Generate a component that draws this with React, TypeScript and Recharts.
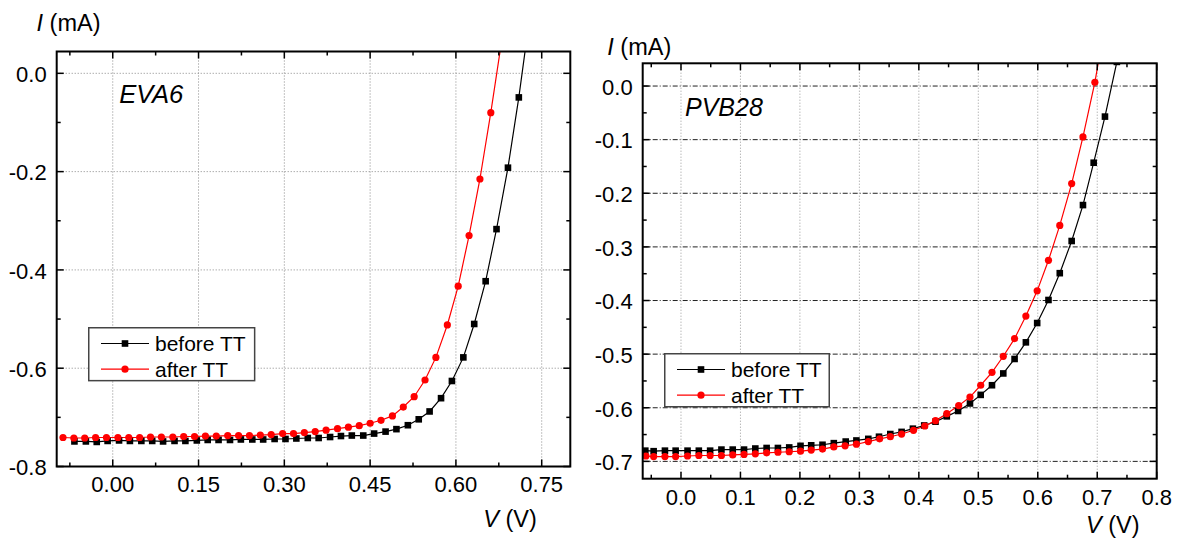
import React from 'react';
import { LineChart, Line, XAxis, YAxis, ReferenceLine, Legend } from 'recharts';

const FONT = '"Liberation Sans", Arial, Helvetica, sans-serif';

// ---------- EVA6 panel ----------
const EVA6_BEFORE_V = [-0.067, -0.047, -0.028, -0.009, 0.011, 0.030, 0.050, 0.069, 0.088, 0.108, 0.127, 0.147, 0.166, 0.185, 0.205, 0.224, 0.244, 0.263, 0.283, 0.302, 0.321, 0.341, 0.360, 0.380, 0.399, 0.418, 0.438, 0.457, 0.477, 0.496, 0.516, 0.535, 0.554, 0.574, 0.593, 0.613, 0.632, 0.652, 0.671, 0.691, 0.710, 0.730];
const EVA6_BEFORE_I = [-0.749, -0.749, -0.750, -0.748, -0.747, -0.748, -0.748, -0.748, -0.749, -0.748, -0.748, -0.747, -0.746, -0.746, -0.746, -0.745, -0.745, -0.745, -0.744, -0.744, -0.743, -0.742, -0.742, -0.740, -0.738, -0.737, -0.737, -0.733, -0.729, -0.724, -0.716, -0.704, -0.688, -0.661, -0.626, -0.578, -0.510, -0.423, -0.317, -0.192, -0.049, 0.123];
const EVA6_AFTER_V = [-0.087, -0.068, -0.049, -0.030, -0.011, 0.009, 0.028, 0.047, 0.066, 0.085, 0.105, 0.124, 0.143, 0.162, 0.181, 0.201, 0.220, 0.239, 0.258, 0.277, 0.297, 0.316, 0.335, 0.354, 0.373, 0.393, 0.412, 0.431, 0.450, 0.469, 0.489, 0.508, 0.527, 0.546, 0.565, 0.585, 0.604, 0.623, 0.642, 0.661, 0.681];
const EVA6_AFTER_I = [-0.741, -0.742, -0.742, -0.741, -0.741, -0.741, -0.741, -0.741, -0.740, -0.740, -0.740, -0.739, -0.739, -0.738, -0.738, -0.737, -0.737, -0.737, -0.736, -0.735, -0.733, -0.733, -0.731, -0.729, -0.726, -0.723, -0.720, -0.717, -0.712, -0.706, -0.697, -0.679, -0.658, -0.624, -0.578, -0.512, -0.433, -0.330, -0.215, -0.080, 0.074];
const EVA6_X_MAJOR = [0, 0.15, 0.3, 0.45, 0.6, 0.75];
const EVA6_X_MINOR = [-0.075, 0.075, 0.225, 0.375, 0.525, 0.675];
const EVA6_Y_MAJOR = [-0.8, -0.6, -0.4, -0.2, 0];
const EVA6_Y_MINOR = [-0.7, -0.5, -0.3, -0.1];

// ---------- PVB28 panel ----------
const PVB28_BEFORE_V = [-0.060, -0.046, -0.027, -0.009, 0.011, 0.030, 0.049, 0.068, 0.087, 0.106, 0.125, 0.144, 0.163, 0.182, 0.201, 0.219, 0.238, 0.257, 0.277, 0.295, 0.315, 0.333, 0.352, 0.371, 0.390, 0.409, 0.428, 0.447, 0.466, 0.486, 0.504, 0.523, 0.542, 0.561, 0.580, 0.599, 0.618, 0.637, 0.657, 0.676, 0.694, 0.713, 0.733];
const PVB28_BEFORE_I = [-0.680, -0.681, -0.680, -0.680, -0.680, -0.680, -0.680, -0.678, -0.678, -0.678, -0.676, -0.675, -0.675, -0.674, -0.671, -0.670, -0.669, -0.666, -0.663, -0.661, -0.658, -0.654, -0.649, -0.645, -0.639, -0.633, -0.626, -0.616, -0.606, -0.592, -0.576, -0.558, -0.536, -0.509, -0.478, -0.442, -0.399, -0.349, -0.289, -0.222, -0.143, -0.057, 0.045];
const PVB28_AFTER_V = [-0.059, -0.046, -0.027, -0.009, 0.011, 0.030, 0.049, 0.068, 0.087, 0.106, 0.125, 0.144, 0.163, 0.182, 0.201, 0.219, 0.238, 0.257, 0.276, 0.295, 0.315, 0.334, 0.352, 0.371, 0.391, 0.410, 0.428, 0.447, 0.467, 0.486, 0.504, 0.523, 0.542, 0.561, 0.580, 0.599, 0.618, 0.637, 0.657, 0.676, 0.696, 0.715];
const PVB28_AFTER_I = [-0.690, -0.691, -0.691, -0.691, -0.690, -0.689, -0.689, -0.689, -0.688, -0.687, -0.686, -0.684, -0.683, -0.682, -0.681, -0.679, -0.677, -0.673, -0.671, -0.668, -0.663, -0.658, -0.654, -0.649, -0.642, -0.634, -0.624, -0.611, -0.596, -0.580, -0.558, -0.534, -0.504, -0.471, -0.429, -0.382, -0.325, -0.260, -0.182, -0.095, 0.007, 0.127];
const PVB28_X_MAJOR = [0, 0.1, 0.2, 0.3, 0.4, 0.5, 0.6, 0.7, 0.8];
const PVB28_X_MINOR = [-0.05, 0.05, 0.15, 0.25, 0.35, 0.45, 0.55, 0.65, 0.75];
const PVB28_Y_MAJOR = [-0.7, -0.6, -0.5, -0.4, -0.3, -0.2, -0.1, 0];
const PVB28_Y_MINOR = [-0.65, -0.55, -0.45, -0.35, -0.25, -0.15, -0.05];

const SERIES_NAMES = ['before TT', 'after TT'];
const SERIES_COLORS = ['#000000', '#ff0000'];

const toPoints = (v: number[], i: number[]) => v.map((x, k) => ({ v: x, i: i[k] }));

const SquareDot = (props: any) => {
  const { cx, cy, index } = props;
  if (cx == null || cy == null) return <g key={`sq-${index}`} />;
  return <rect key={`sq-${index}`} x={cx - 3.3} y={cy - 3.3} width={6.6} height={6.6} fill="#000" />;
};

type Box = { x: number; y: number; w: number; h: number };

const makeLegend = (box: Box) => () => {
  const rows = [16.5, 42.2];
  return (
    <svg width={box.w} height={box.h} style={{ display: 'block', overflow: 'visible' }}>
      <rect x={0.75} y={0.75} width={box.w - 1.5} height={box.h - 1.5} fill="#fff" stroke="#444" strokeWidth={1.5} />
      {SERIES_NAMES.map((n, k) => (
        <g key={n}>
          <line x1={13} x2={61} y1={rows[k]} y2={rows[k]} stroke={SERIES_COLORS[k]} strokeWidth={1.2} />
          {k === 0 ? (
            <rect x={37 - 3.3} y={rows[k] - 3.3} width={6.6} height={6.6} fill="#000" />
          ) : (
            <circle cx={37} cy={rows[k]} r={3.6} fill="#ff0000" />
          )}
          <text x={67} y={rows[k] + 7.5} fontSize={21} fontFamily={FONT} fill="#000">{n}</text>
        </g>
      ))}
    </svg>
  );
};

type PanelProps = {
  left: number;
  width: number;
  plot: { l: number; r: number; t: number; b: number };
  xDomain: [number, number];
  yDomain: [number, number];
  xMajor: number[];
  xMinor: number[];
  yMajor: number[];
  yMinor: number[];
  xDigits: number;
  before: { v: number; i: number }[];
  after: { v: number; i: number }[];
  hGrid: { stroke: string; dash: string };
  vGrid: { stroke: string; dash: string };
  legend: Box;
  name: string;
  nameAt: [number, number, number];
  yTitleAt: [number, number];
  xTitleAt: [number, number];
};

const H = 541;
const TICK_FS = 22;

const Panel = (p: PanelProps) => {
  const common = { type: 'number' as const, allowDataOverflow: true };
  const { l, r, t, b } = p.plot;
  // frame tick positions (non-data decoration) follow the same linear domain → plot mapping
  const px = (v: number) => l + ((v - p.xDomain[0]) / (p.xDomain[1] - p.xDomain[0])) * (r - l);
  const py = (v: number) => b - ((v - p.yDomain[0]) / (p.yDomain[1] - p.yDomain[0])) * (b - t);
  const tk = { stroke: '#000', strokeWidth: 1.5 };
  const xt = [...p.xMajor.map((v) => [v, 7]), ...p.xMinor.map((v) => [v, 4])];
  const yt = [...p.yMajor.map((v) => [v, 7]), ...p.yMinor.map((v) => [v, 4])];

  return (
    <div style={{ position: 'absolute', left: p.left, top: 0, width: p.width, height: H }}>
      <LineChart width={p.width} height={H} margin={{ top: t, right: p.width - r, bottom: 0, left: 0 }}>
        {p.yMajor.map((v) => (
          <ReferenceLine key={`hg-${v}`} y={v} ifOverflow="visible" stroke={p.hGrid.stroke} strokeDasharray={p.hGrid.dash} strokeWidth={1} />
        ))}
        {p.xMajor.map((v) => (
          <ReferenceLine key={`vg-${v}`} x={v} ifOverflow="visible" stroke={p.vGrid.stroke} strokeDasharray={p.vGrid.dash} strokeWidth={1} />
        ))}
        <XAxis dataKey="v" {...common} domain={p.xDomain} ticks={p.xMajor} interval={0} tickLine={false} tickSize={0} tickMargin={10.3}
          axisLine={false} tick={{ fill: '#000', fontSize: TICK_FS, fontFamily: FONT }} tickFormatter={(x: number) => x.toFixed(p.xDigits)} height={H - b} />
        <YAxis {...common} domain={p.yDomain} ticks={p.yMajor} interval={0} tickLine={false} tickSize={0} tickMargin={10}
          axisLine={false} tick={{ fill: '#000', fontSize: TICK_FS, fontFamily: FONT, dy: 1 }} tickFormatter={(y: number) => y.toFixed(1)} width={l} />
        <Line data={p.before} dataKey="i" name={SERIES_NAMES[0]} stroke={SERIES_COLORS[0]} strokeWidth={1.2} dot={SquareDot} activeDot={false} isAnimationActive={false} />
        <Line data={p.after} dataKey="i" name={SERIES_NAMES[1]} stroke={SERIES_COLORS[1]} strokeWidth={1.2} dot={{ r: 3.6, fill: '#ff0000', stroke: '#ff0000', strokeWidth: 0 }} activeDot={false} isAnimationActive={false} />
        <Legend layout="vertical" align="center" verticalAlign="middle" content={makeLegend(p.legend)} wrapperStyle={{ left: p.legend.x, top: p.legend.y, width: p.legend.w, height: p.legend.h }} />
      </LineChart>
      <svg width={p.width} height={H} style={{ position: 'absolute', left: 0, top: 0, pointerEvents: 'none' }}>
        <rect x={l} y={t} width={r - l} height={b - t} fill="none" stroke="#000" strokeWidth={2} />
        {xt.map(([v, len]) => (
          <g key={`xt-${v}`}>
            <line x1={px(v)} x2={px(v)} y1={b} y2={b - len} {...tk} />
            <line x1={px(v)} x2={px(v)} y1={t} y2={t + len} {...tk} />
          </g>
        ))}
        {yt.map(([v, len]) => (
          <g key={`yt-${v}`}>
            <line x1={l} x2={l + len} y1={py(v)} y2={py(v)} {...tk} />
            <line x1={r} x2={r - len} y1={py(v)} y2={py(v)} {...tk} />
          </g>
        ))}
        <text x={p.yTitleAt[0]} y={p.yTitleAt[1]} fontSize={23.5} fontFamily={FONT} fill="#000">
          <tspan fontStyle="italic">I</tspan> (mA)
        </text>
        <text x={p.xTitleAt[0]} y={p.xTitleAt[1]} fontSize={23.5} fontFamily={FONT} fill="#000">
          <tspan fontStyle="italic">V</tspan> (V)
        </text>
        <text x={p.nameAt[0]} y={p.nameAt[1]} fontSize={p.nameAt[2]} fontStyle="italic" fontFamily={FONT} fill="#000">{p.name}</text>
      </svg>
    </div>
  );
};

export default function App() {
  return (
    <div style={{ position: 'absolute', left: 0, top: 0, width: 1179, height: H, background: '#fff', overflow: 'hidden' }}>
      <Panel
        left={0}
        width={589}
        plot={{ l: 56.7, r: 570.3, t: 51.5, b: 466.5 }}
        xDomain={[-0.098, 0.8]}
        yDomain={[-0.8, 0.0444]}
        xMajor={EVA6_X_MAJOR}
        xMinor={EVA6_X_MINOR}
        yMajor={EVA6_Y_MAJOR}
        yMinor={EVA6_Y_MINOR}
        xDigits={2}
        before={toPoints(EVA6_BEFORE_V, EVA6_BEFORE_I)}
        after={toPoints(EVA6_AFTER_V, EVA6_AFTER_I)}
        hGrid={{ stroke: '#888', dash: '1 2' }}
        vGrid={{ stroke: '#888', dash: '1 2' }}
        legend={{ x: 88.3, y: 327.3, w: 167.4, h: 54.4 }}
        name="EVA6"
        nameAt={[119.3, 102.7, 25.6]}
        yTitleAt={[36.5, 31]}
        xTitleAt={[483.3, 527.4]}
      />
      <Panel
        left={589}
        width={590}
        plot={{ l: 53.7, r: 567.7, t: 63.3, b: 478.7 }}
        xDomain={[-0.0644, 0.8]}
        yDomain={[-0.7323, 0.0424]}
        xMajor={PVB28_X_MAJOR}
        xMinor={PVB28_X_MINOR}
        yMajor={PVB28_Y_MAJOR}
        yMinor={PVB28_Y_MINOR}
        xDigits={1}
        before={toPoints(PVB28_BEFORE_V, PVB28_BEFORE_I)}
        after={toPoints(PVB28_AFTER_V, PVB28_AFTER_I)}
        hGrid={{ stroke: '#222', dash: '5 2 1 2' }}
        vGrid={{ stroke: '#999', dash: '1 2' }}
        legend={{ x: 75.2, y: 352.6, w: 166, h: 54.5 }}
        name="PVB28"
        nameAt={[96, 115.7, 25]}
        yTitleAt={[18.3, 55]}
        xTitleAt={[497, 532.7]}
      />
    </div>
  );
}
